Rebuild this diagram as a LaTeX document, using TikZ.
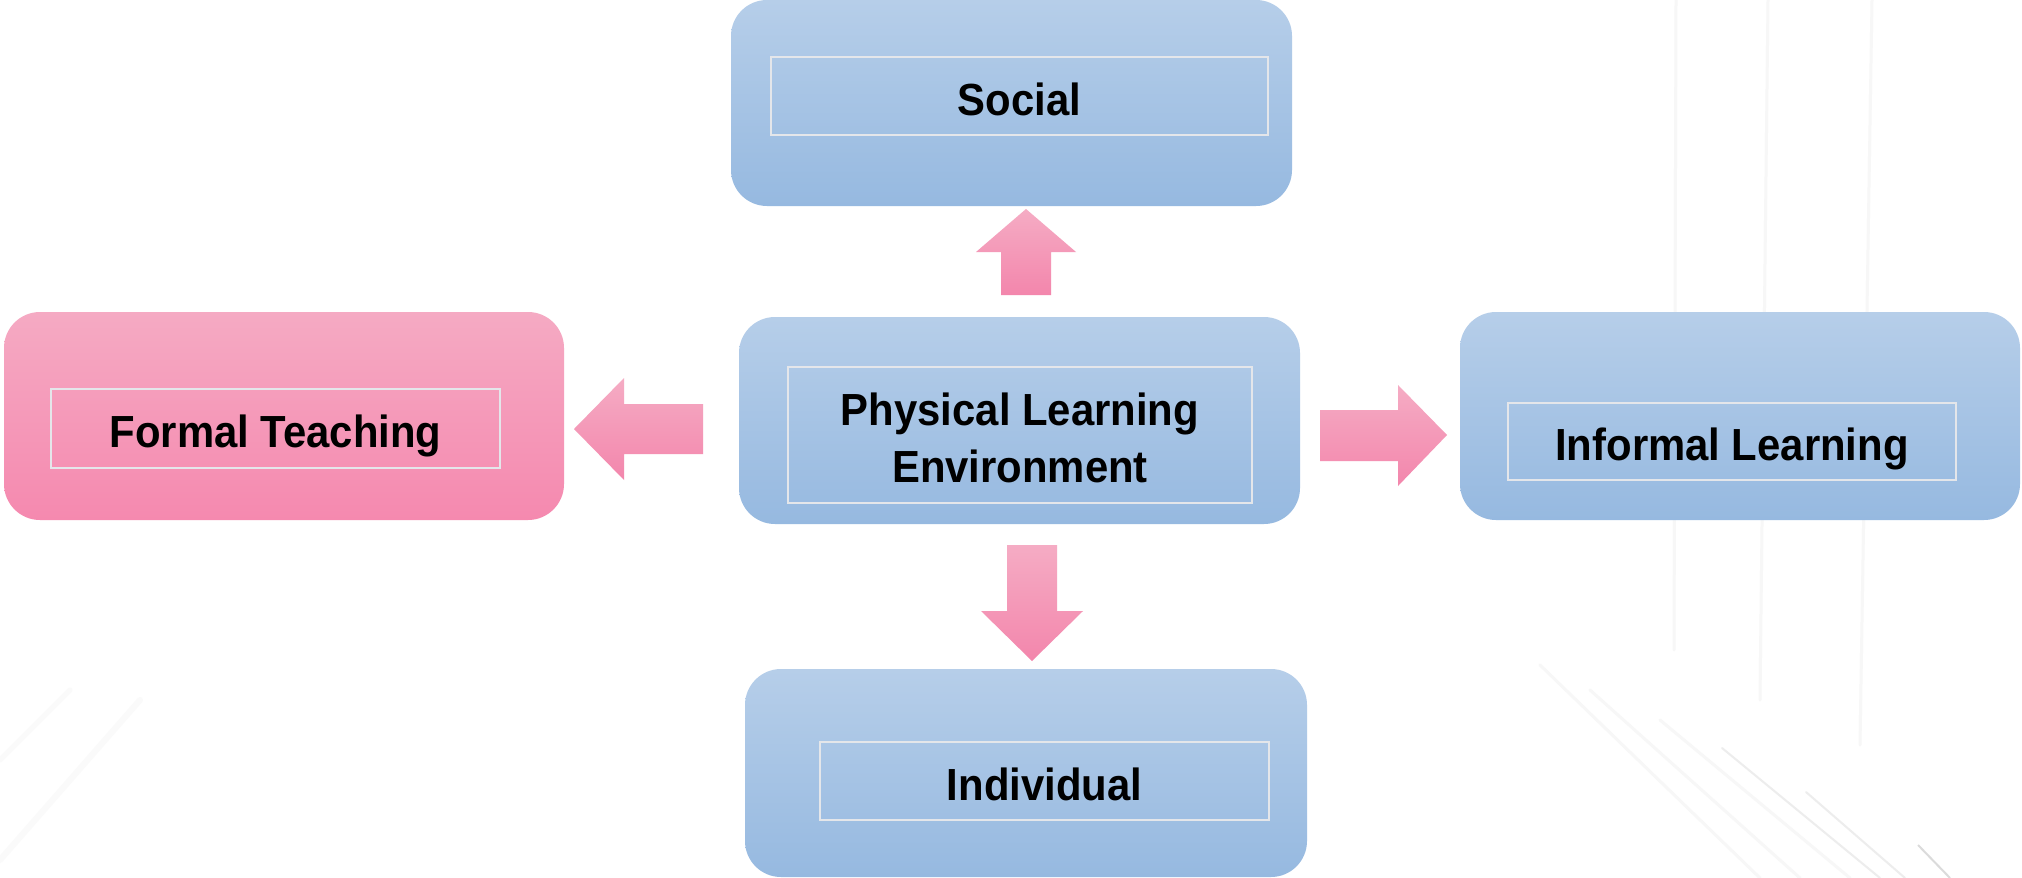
\documentclass[tikz,border=0pt]{standalone}
\usepackage{fontspec}
\newfontfamily\labfont{Liberation Sans}
\newcommand\narr[1]{\scalebox{0.93}[1]{#1}}
\begin{document}
\begin{tikzpicture}[x=1pt,y=-1pt,
  bluebox/.style={rectangle,rounded corners=36pt,inner sep=0pt,top color=boxtop,bottom color=boxbot,draw=none},
  pinkbox/.style={rectangle,rounded corners=36pt,inner sep=0pt,top color=pinktop,bottom color=pinkbot,draw=none},
  inner/.style={rectangle,draw=framecol,line width=1.6pt,inner sep=0pt,align=center,
    font=\labfont\bfseries\fontsize{45}{57}\selectfont,text height=38pt,text depth=0pt},
  arrowfill/.style={top color=arrtop,bottom color=arrbot,draw=none},
  streak/.style={draw=black!3,line width=3pt,line cap=round},
  dstreak/.style={draw=black!7,line width=2pt,line cap=round}]
\definecolor{boxtop}{HTML}{B6CEE9}
\definecolor{boxbot}{HTML}{96B9E0}
\definecolor{pinktop}{HTML}{F5AAC3}
\definecolor{pinkbot}{HTML}{F589AF}
\definecolor{arrtop}{HTML}{F5ACC4}
\definecolor{arrbot}{HTML}{F386AC}
\definecolor{framecol}{HTML}{E4E6EA}
\useasboundingbox[fill=white] (0,0) rectangle (2022,878);
% faint background streaks
\draw[streak] (1676,0) -- (1674,650);
\draw[streak] (1768,0) -- (1760,700);
\draw[streak] (1872,0) -- (1860,745);
\draw[streak] (1540,665) -- (1760,878);
\draw[streak] (1590,690) -- (1800,878);
\draw[streak] (1660,720) -- (1850,878);
\draw[dstreak] (1722,748) -- (1880,878);
\draw[dstreak] (1806,792) -- (1905,878);
\draw[draw=black!14,line width=2pt] (1918,845) -- (1950,878);
\draw[streak,draw=black!2,line width=6pt] (0,860) -- (140,700);
\draw[streak,draw=black!2,line width=5pt] (0,760) -- (70,690);
% boxes
\node[bluebox,minimum width=561pt,minimum height=206pt] (social) at (1011.5,103) {};
\node[bluebox,minimum width=561pt,minimum height=207pt] (center) at (1019.5,420.5) {};
\node[pinkbox,minimum width=560pt,minimum height=208pt] (formal) at (284,416) {};
\node[bluebox,minimum width=560pt,minimum height=208pt] (informal) at (1740,416) {};
\node[bluebox,minimum width=562pt,minimum height=208pt] (individual) at (1026,773) {};
% inner frames with labels
\node[inner,minimum width=497pt,minimum height=78pt] (socialt) at (1019.5,96) {\narr{Social}};
\node[inner,minimum width=464pt,minimum height=136pt,text height=94pt] (centert) at (1020,435) {\narr{Physical Learning}\\\narr{Environment}};
\node[inner,minimum width=449pt,minimum height=79pt] (formalt) at (275.5,428.5) {\narr{Formal Teaching}};
\node[inner,minimum width=448pt,minimum height=77pt] (informalt) at (1732,441.5) {\narr{Informal Learning}};
\node[inner,minimum width=449pt,minimum height=78pt] (individualt) at (1044.5,781) {\narr{Individual}};
% block arrows
\shade[arrowfill] (1001,295) -- (1051,295) -- (1051,252) -- (1076,252) -- (1026,209) -- (976,252) -- (1001,252) -- cycle;
\shade[arrowfill] (703,404) -- (703,454) -- (624,454) -- (624,480) -- (574,429) -- (624,378) -- (624,404) -- cycle;
\shade[arrowfill] (1320,410) -- (1398,410) -- (1398,385) -- (1447,435) -- (1398,486) -- (1398,461) -- (1320,461) -- cycle;
\shade[arrowfill] (1007,545) -- (1057,545) -- (1057,611) -- (1083,611) -- (1032,661) -- (981,611) -- (1007,611) -- cycle;
\end{tikzpicture}
\end{document}
